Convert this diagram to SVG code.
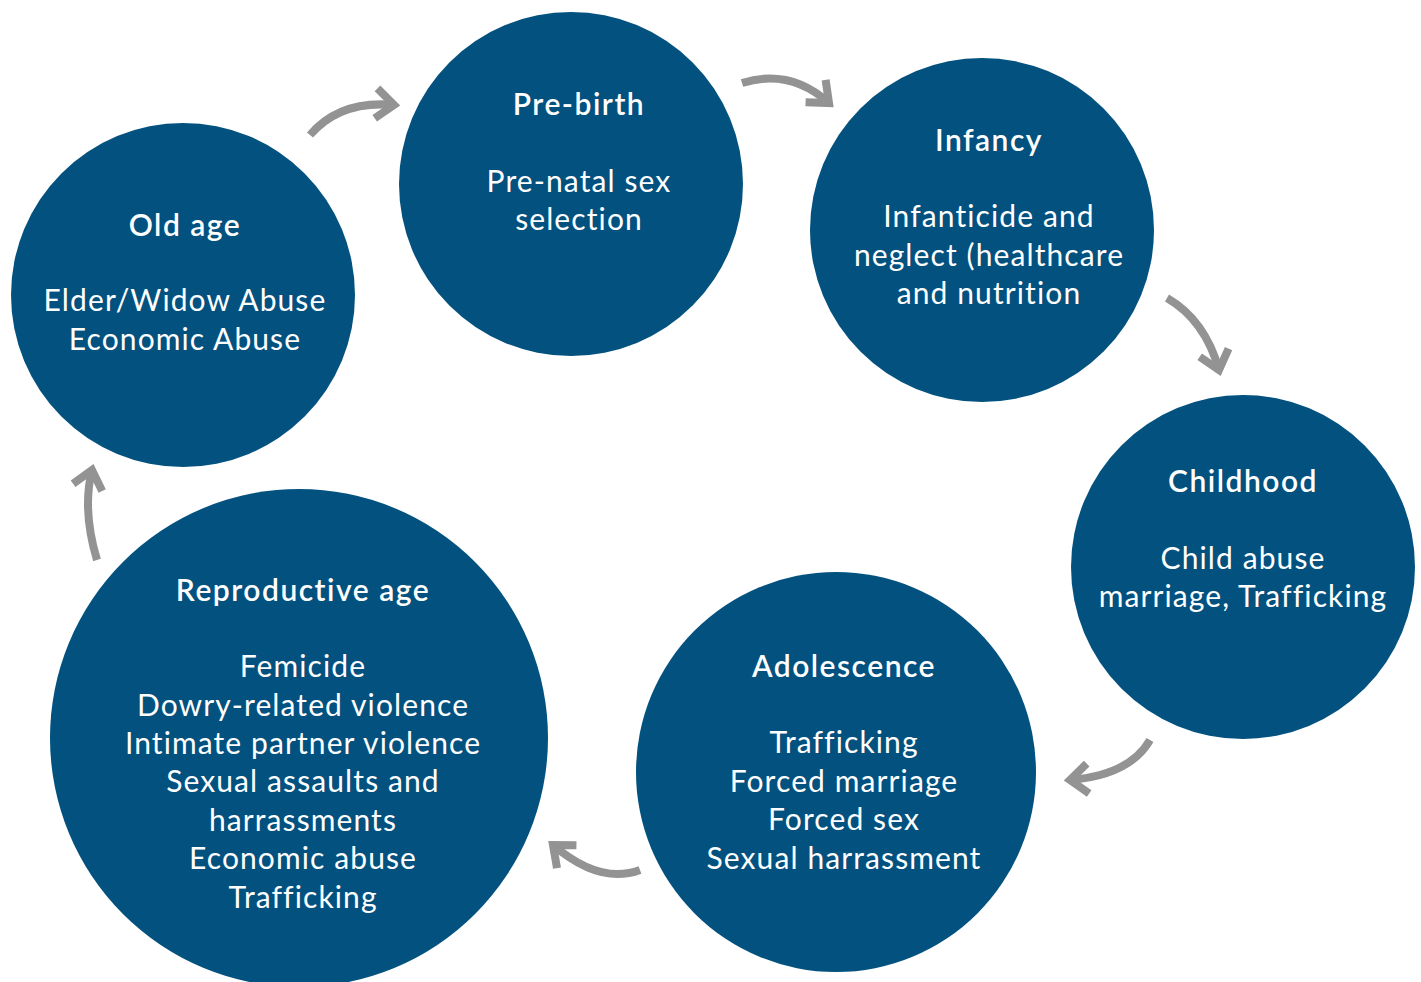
<svg xmlns="http://www.w3.org/2000/svg" width="1421" height="982" viewBox="0 0 1421 982">
<style>
.c{fill:#02517F}
.t{font-family:Lato,"Open Sans","Liberation Sans",sans-serif;font-size:30px;fill:#fff;text-anchor:middle;letter-spacing:1.1px}
.h{font-weight:600;letter-spacing:1.5px}
.a{fill:none;stroke:#939393;stroke-width:8;marker-end:url(#m)}
</style>
<defs>
<marker id="m" markerUnits="userSpaceOnUse" markerWidth="50" markerHeight="50" viewBox="-30 -25 50 50" refX="0" refY="0" orient="auto">
<path d="M-18,-15 L0,0 L-18,15" fill="none" stroke="#939393" stroke-width="8"/>
</marker>
</defs>
<rect width="1421" height="982" fill="#fff"/>
<g id="old-age"><circle class="c" cx="183" cy="295" r="172"/>
<text class="t h" x="185" y="236">Old age</text>
<text class="t" x="185" y="311">Elder/Widow Abuse</text>
<text class="t" x="185" y="350">Economic Abuse</text></g>
<g id="pre-birth"><circle class="c" cx="571" cy="184" r="172"/>
<text class="t h" x="579" y="115">Pre-birth</text>
<text class="t" x="579" y="192">Pre-natal sex</text>
<text class="t" x="579" y="230">selection</text></g>
<g id="infancy"><circle class="c" cx="982" cy="230" r="172"/>
<text class="t h" x="989" y="151">Infancy</text>
<text class="t" x="989" y="227">Infanticide and</text>
<text class="t" x="989" y="266">neglect (healthcare</text>
<text class="t" x="989" y="304">and nutrition</text></g>
<g id="childhood"><circle class="c" cx="1243" cy="567" r="172"/>
<text class="t h" x="1243" y="492">Childhood</text>
<text class="t" x="1243" y="569">Child abuse</text>
<text class="t" x="1243" y="607">marriage, Trafficking</text></g>
<g id="adolescence"><circle class="c" cx="836" cy="772" r="200"/>
<text class="t h" x="844" y="677">Adolescence</text>
<text class="t" x="844" y="753">Trafficking</text>
<text class="t" x="844" y="792">Forced marriage</text>
<text class="t" x="844" y="830">Forced sex</text>
<text class="t" x="844" y="869">Sexual harrassment</text></g>
<g id="reproductive-age"><circle class="c" cx="299" cy="738" r="249"/>
<text class="t h" x="303" y="601">Reproductive age</text>
<text class="t" x="303" y="677">Femicide</text>
<text class="t" x="303" y="716">Dowry-related violence</text>
<text class="t" x="303" y="754">Intimate partner violence</text>
<text class="t" x="303" y="792">Sexual assaults and</text>
<text class="t" x="303" y="831">harrassments</text>
<text class="t" x="303" y="869">Economic abuse</text>
<text class="t" x="303" y="908">Trafficking</text></g>
<g id="connectors">
<path class="a" d="M310,135 Q340,100 394,105"/>
<path class="a" d="M742,83 Q790,68 829,103"/>
<path class="a" d="M1167,298 Q1205,320 1219,370"/>
<path class="a" d="M1150,740 Q1130,775 1070,780"/>
<path class="a" d="M640,870 Q600,885 553,845"/>
<path class="a" d="M97,560 Q82,510 92,470"/>
</g>
</svg>
